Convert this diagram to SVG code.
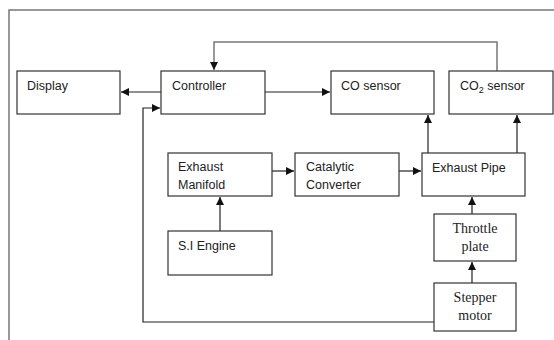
<svg xmlns="http://www.w3.org/2000/svg" width="554" height="340" viewBox="0 0 554 340">
<style>
.box{fill:#fff;stroke:#333;stroke-width:1.2}
.t{font-family:"Liberation Sans","Open Sans",sans-serif;font-size:12.5px;fill:#222}
.s{font-family:"Liberation Serif","Times New Roman",serif;font-size:14px;fill:#222;text-anchor:middle}
.c{fill:none;stroke:#222;stroke-width:1.2}
.g{fill:none;stroke:#777;stroke-width:1.5}
</style>
<defs>
<marker id="a" viewBox="0 0 8 8" refX="8" refY="4" markerWidth="8" markerHeight="8" markerUnits="userSpaceOnUse" orient="auto">
<path d="M0,0 L8,4 L0,8 z" fill="#111"/>
</marker>
</defs>
<rect width="554" height="340" fill="#fff"/>
<path class="g" d="M9,340 V10 H554"/>
<g id="connectors">
<path class="g" d="M497,71 V42 H214 V70" marker-end="url(#a)"/>
<path class="c" d="M161,92 H121" marker-end="url(#a)"/>
<path class="c" d="M265,92 H330" marker-end="url(#a)"/>
<path class="c" d="M434,322 H143 V108 H160" marker-end="url(#a)"/>
<path class="c" d="M220,231 V197" marker-end="url(#a)"/>
<path class="c" d="M272,171 H294" marker-end="url(#a)"/>
<path class="c" d="M399,171 H421" marker-end="url(#a)"/>
<path class="c" d="M428,153 V115" marker-end="url(#a)"/>
<path class="c" d="M517,153 V115" marker-end="url(#a)"/>
<path class="c" d="M472,214 V197" marker-end="url(#a)"/>
<path class="c" d="M472,283 V262" marker-end="url(#a)"/>
</g>
<g id="display"><rect class="box" x="17" y="71" width="103" height="43"/><text class="t" x="27" y="90">Display</text></g>
<g id="controller"><rect class="box" x="161" y="71" width="104" height="43"/><text class="t" x="172" y="90">Controller</text></g>
<g id="co-sensor"><rect class="box" x="331" y="71" width="103" height="43"/><text class="t" x="341" y="90">CO sensor</text></g>
<g id="co2-sensor"><rect class="box" x="449" y="71" width="104" height="43"/><text class="t" x="460" y="90">CO<tspan font-size="9" dy="3">2</tspan><tspan dy="-3"> sensor</tspan></text></g>
<g id="exhaust-manifold"><rect class="box" x="168" y="153" width="104" height="43"/><text class="t" x="178" y="171">Exhaust</text><text class="t" x="178" y="189">Manifold</text></g>
<g id="si-engine"><rect class="box" x="168" y="231" width="104" height="44"/><text class="t" x="178" y="250">S.I Engine</text></g>
<g id="catalytic-converter"><rect class="box" x="295" y="153" width="104" height="43"/><text class="t" x="306" y="171">Catalytic</text><text class="t" x="306" y="189">Converter</text></g>
<g id="exhaust-pipe"><rect class="box" x="422" y="153" width="103" height="43"/><text class="t" x="432" y="172">Exhaust Pipe</text></g>
<g id="throttle-plate"><rect class="box" x="434" y="214" width="82" height="47"/><text class="s" x="475" y="233">Throttle</text><text class="s" x="475" y="251">plate</text></g>
<g id="stepper-motor"><rect class="box" x="434" y="283" width="82" height="48"/><text class="s" x="475" y="302">Stepper</text><text class="s" x="475" y="320">motor</text></g>
</svg>
